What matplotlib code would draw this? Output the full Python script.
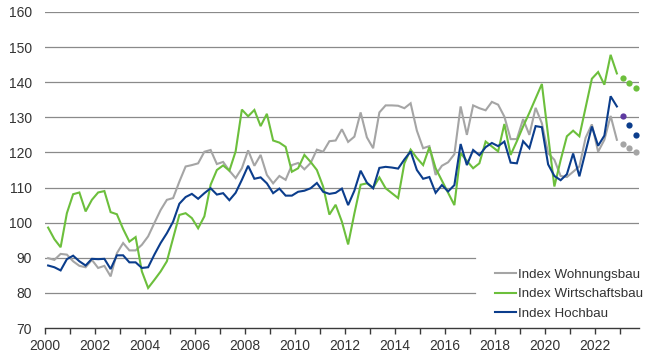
import matplotlib
matplotlib.use('Agg')
import matplotlib.pyplot as plt
from matplotlib.lines import Line2D
from matplotlib.ticker import MultipleLocator

plt.rcParams['font.family'] = ['Liberation Sans', 'DejaVu Sans']

# ---------------- data ----------------
years = list(range(2000, 2023))
quarters = [f"{y}Q{q}" for y in years for q in range(1, 5)]
forecast_quarters = ["2023Q1", "2023Q2", "2023Q3"]

wohnungsbau = [
    89.9, 89.4, 91.1, 90.9, 89.0, 87.7, 87.3, 89.4, 87.1, 87.7, 84.7, 91.3,
    94.2, 92.1, 92.1, 93.7, 96.1, 99.9, 103.6, 106.5, 107.0, 111.7, 116.0, 116.4,
    116.9, 120.2, 120.7, 116.7, 117.3, 114.8, 112.7, 115.5, 120.6, 116.2, 119.3, 113.6,
    111.2, 113.3, 112.2, 116.4, 117.0, 115.2, 117.0, 120.8, 120.2, 123.2, 123.4, 126.6,
    123.0, 124.5, 131.4, 124.3, 121.2, 131.4, 133.4, 133.4, 133.3, 132.6, 134.0, 126.2,
    121.2, 121.8, 113.6, 116.2, 117.2, 119.5, 133.1, 125.0, 133.4, 132.6, 132.0, 134.4,
    133.6, 130.2, 123.8, 123.8, 129.5, 125.0, 132.7, 128.3, 119.8, 117.9, 113.3, 113.0,
    114.5, 116.0, 124.2, 128.0, 120.2, 123.6, 130.4, 123.6]

wirtschaftsbau = [
    98.6, 95.3, 93.0, 102.7, 108.1, 108.6, 103.2, 106.5, 108.6, 109.0, 103.0, 102.4,
    98.2, 94.6, 95.9, 86.1, 81.4, 83.7, 86.1, 89.0, 95.6, 102.2, 102.7, 101.3,
    98.4, 101.8, 110.8, 115.0, 116.3, 114.8, 120.3, 132.2, 130.3, 132.1, 127.5, 131.0,
    123.4, 122.8, 121.6, 114.5, 115.5, 119.3, 117.3, 115.0, 110.3, 102.3, 105.1, 100.3,
    93.8, 102.6, 110.8, 111.2, 109.9, 112.9, 109.8, 108.4, 107.0, 116.9, 120.8, 118.4,
    116.4, 121.5, 115.5, 112.0, 108.5, 105.0, 119.8, 117.6, 115.5, 116.9, 123.1, 121.7,
    120.3, 128.1, 119.3, 123.2, 127.4, 131.3, 135.4, 139.5, 124.8, 110.3, 117.8, 124.6,
    126.2, 124.6, 132.8, 141.0, 142.9, 139.3, 147.8, 142.5]

hochbau = [
    87.8, 87.3, 86.4, 89.6, 90.6, 89.0, 87.8, 89.7, 89.6, 89.7, 86.8, 90.7,
    90.7, 88.7, 88.7, 87.1, 87.3, 90.9, 94.2, 97.0, 100.3, 105.4, 107.3, 108.2,
    106.8, 108.4, 109.8, 108.0, 108.4, 106.4, 108.5, 112.2, 116.2, 112.5, 112.9, 111.2,
    108.4, 109.7, 107.7, 107.7, 108.8, 109.1, 109.8, 111.3, 108.8, 108.2, 108.5, 109.7,
    105.0, 109.1, 114.8, 111.4, 109.8, 115.6, 115.9, 115.7, 115.4, 118.0, 120.3, 115.0,
    112.5, 113.0, 108.5, 110.7, 108.9, 110.7, 122.4, 116.4, 120.7, 119.2, 121.5, 122.7,
    121.8, 123.1, 117.1, 116.9, 123.2, 121.2, 127.5, 127.2, 116.6, 113.3, 112.1, 113.8,
    119.7, 113.2, 120.3, 127.4, 121.9, 124.8, 136.0, 133.1]

wohnungsbau_fc = [122.4, 121.3, 120.0]
wirtschaftsbau_fc = [141.1, 139.7, 138.3]
hochbau_fc = [130.4, 127.7, 125.1]

labels = ["Index Wohnungsbau", "Index Wirtschaftsbau", "Index Hochbau"]
yticks = list(range(70, 161, 10))

# ---------------- style ----------------
c_gray = '#a5a5a5'
c_green = '#6cbf3c'
c_blue = '#0b3d8c'
c_purple = '#5e3aa0'
c_grid = '#8a8a8a'
c_text = '#333333'


def qpos(q):
    return int(q[:4]) + (int(q[-1]) - 0.5) / 4


x = [qpos(q) for q in quarters]
xf = [qpos(q) for q in forecast_quarters]

fig = plt.figure(figsize=(6.53, 3.64), dpi=100)
ax = fig.add_axes([45 / 653, 1 - 328 / 364, 594 / 653, 316 / 364])
ax.set_xlim(2000, 2023.76)
ax.set_ylim(70, 160)

for v in yticks[1:]:
    xmax = 0.724 if v in (80, 90) else 1.0
    ax.axhline(v, xmin=0, xmax=xmax, color=c_grid, lw=0.9, zorder=1)

lw = 1.5
ax.plot(x, wohnungsbau, color=c_gray, lw=lw, zorder=3, solid_joinstyle='miter')
ax.plot(x, wirtschaftsbau, color=c_green, lw=lw, zorder=4, solid_joinstyle='miter')
ax.plot(x, hochbau, color=c_blue, lw=lw, zorder=5, solid_joinstyle='miter')

ms = 4.5
ax.plot(xf, wohnungsbau_fc, 'o', color=c_gray, ms=ms, mec='none', zorder=3)
ax.plot(xf, wirtschaftsbau_fc, 'o', color=c_green, ms=ms, mec='none', zorder=4)
ax.plot(xf[1:], hochbau_fc[1:], 'o', color=c_blue, ms=ms, mec='none', zorder=5)
ax.plot(xf[:1], hochbau_fc[:1], 'o', color=c_purple, ms=ms, mec='none', zorder=5)

for s in ['left', 'right', 'top']:
    ax.spines[s].set_visible(False)
ax.spines['bottom'].set_color('#3a3a3a')
ax.spines['bottom'].set_linewidth(1.0)

ax.set_yticks(yticks)
ax.tick_params(axis='y', length=0, pad=9.5, labelsize=10, labelcolor=c_text)
ax.set_xticks(list(range(2000, 2023, 2)))
ax.set_xticklabels([str(y) for y in range(2000, 2023, 2)])
ax.xaxis.set_minor_locator(MultipleLocator(1))
ax.tick_params(axis='x', which='both', direction='out', length=4, width=1.0,
               color='#3a3a3a', pad=4, labelsize=10, labelcolor=c_text)

handles = [Line2D([], [], color=c, lw=lw) for c in (c_gray, c_green, c_blue)]
ax.legend(handles, labels, loc='lower left', bbox_to_anchor=(495 / 653, 1 - 320 / 364),
          bbox_transform=fig.transFigure, frameon=False, handlelength=1.6,
          handletextpad=0.15, labelspacing=0.55, fontsize=9.6, borderpad=0,
          borderaxespad=0, labelcolor=c_text)

fig.savefig('out.png', dpi=100)
